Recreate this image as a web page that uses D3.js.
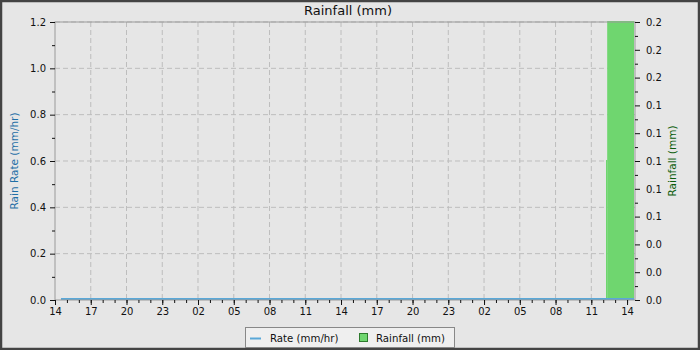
<!DOCTYPE html>
<html><head><meta charset="utf-8">
<script src="https://cdn.jsdelivr.net/npm/d3@7"></script>
<style>body{margin:0;background:#fff}svg{display:block;font-family:"DejaVu Sans",sans-serif}</style>
</head><body><svg id="c" width="700" height="350"></svg>
<script>
const title = "Rainfall (mm)";
const timeStart = "2024-01-01T14:00";
const timeEnd = "2024-01-03T14:40";
const rateTimes = ["2024-01-01T14:30", "2024-01-03T14:35"];
const rateValues = [0, 0];
const rainStart = ["2024-01-03T12:14", "2024-01-03T12:20"];
const rainEnd = ["2024-01-03T12:20", "2024-01-03T14:35"];
const rainValues = [0.1, 0.2];
const leftTicks = [0, 0.2, 0.4, 0.6, 0.8, 1.0, 1.2];
const rightTicks = [0, 0.02, 0.04, 0.06, 0.08, 0.10, 0.12, 0.14, 0.16, 0.18, 0.20];

const svg = d3.select("#c");
const W = 700, H = 350;
const m = {l:55, r:65, t:22, b:50};
const pw = W - m.l - m.r, ph = H - m.t - m.b;
const parse = d3.timeParse("%Y-%m-%dT%H:%M");
const TICK_FS = 10;

svg.append("rect").attr("x",0).attr("y",0).attr("width",W).attr("height",H).attr("fill","#e6e6e6");
svg.append("rect").attr("x",1).attr("y",1).attr("width",W-2).attr("height",H-2).attr("fill","none").attr("stroke","#444").attr("stroke-width",2.5);

const t0 = parse(timeStart), t1 = parse(timeEnd);
const x = d3.scaleTime().domain([t0, t1]).range([m.l, m.l+pw]);
const yL = d3.scaleLinear().domain([0,1.2]).range([m.t+ph, m.t]);
const yR = d3.scaleLinear().domain([0,0.2]).range([m.t+ph, m.t]);

const g = svg.append("g");
// grid
const majorX = d3.timeHour.range(t0, t1, 3);
const minorX = d3.timeHour.range(t0, t1, 1);
g.selectAll(".gx").data(majorX.slice(1)).join("line")
  .attr("x1",d=>x(d)).attr("x2",d=>x(d)).attr("y1",m.t).attr("y2",m.t+ph)
  .attr("stroke","#bdbdbd").attr("stroke-dasharray","5,3");
g.selectAll(".gy").data(leftTicks.slice(1)).join("line")
  .attr("x1",m.l).attr("x2",m.l+pw).attr("y1",d=>yL(d)).attr("y2",d=>yL(d))
  .attr("stroke","#bdbdbd").attr("stroke-dasharray","5,3");

// rainfall bars
g.selectAll(".bar").data(rainValues).join("rect")
  .attr("x",(d,i)=>x(parse(rainStart[i])))
  .attr("width",(d,i)=>x(parse(rainEnd[i]))-x(parse(rainStart[i])))
  .attr("y",d=>yR(d)-1).attr("height",d=>yR(0)-yR(d)+1)
  .attr("fill","#6fd66f");

// rate line
const rateData = rateTimes.map((t,i)=>[parse(t), rateValues[i]]);
g.append("path").datum(rateData)
  .attr("d", d3.line().x(d=>x(d[0])).y(d=>yL(d[1])-1))
  .attr("fill","none").attr("stroke","#5aa8d8").attr("stroke-width",2);

// frame
svg.append("rect").attr("x",m.l).attr("y",m.t).attr("width",pw).attr("height",ph)
  .attr("fill","none").attr("stroke","#999");

const styleAxis = a => {
  a.select(".domain").remove();
  a.selectAll("text").attr("font-size",TICK_FS).attr("fill","#111").attr("font-family","DejaVu Sans");
  a.selectAll("line").attr("stroke","#111");
};
// bottom axis
const xa = svg.append("g").attr("transform",`translate(0,${m.t+ph})`)
  .call(d3.axisBottom(x).tickValues(majorX).tickFormat(d3.timeFormat("%H")).tickSize(5).tickPadding(3));
styleAxis(xa);
svg.append("g").attr("transform",`translate(0,${m.t+ph})`)
  .call(d3.axisBottom(x).tickValues(minorX).tickFormat("").tickSize(3))
  .call(a=>{a.select(".domain").remove();a.selectAll("line").attr("stroke","#111");});

// left axis
const la = svg.append("g").attr("transform",`translate(${m.l},0)`)
  .call(d3.axisLeft(yL).tickValues(leftTicks).tickFormat(d3.format(".1f")).tickSize(5).tickPadding(4));
styleAxis(la);
const leftMinor = leftTicks.slice(0,-1).map((d,i)=>(d+leftTicks[i+1])/2);
svg.append("g").attr("transform",`translate(${m.l},0)`)
  .call(d3.axisLeft(yL).tickValues(leftMinor).tickFormat("").tickSize(3))
  .call(a=>{a.select(".domain").remove();a.selectAll("line").attr("stroke","#111");});

// right axis
const ra = svg.append("g").attr("transform",`translate(${m.l+pw},0)`)
  .call(d3.axisRight(yR).tickValues(rightTicks).tickFormat(d3.format(".1f")).tickSize(5).tickPadding(6));
styleAxis(ra);
const rightMinor = rightTicks.slice(0,-1).map((d,i)=>(d+rightTicks[i+1])/2);
svg.append("g").attr("transform",`translate(${m.l+pw},0)`)
  .call(d3.axisRight(yR).tickValues(rightMinor).tickFormat("").tickSize(3))
  .call(a=>{a.select(".domain").remove();a.selectAll("line").attr("stroke","#111");});

// titles
svg.append("text").attr("x",348).attr("y",15).attr("text-anchor","middle")
  .attr("font-size",13).attr("fill","#111").text(title);
svg.append("text").attr("transform",`translate(18,${m.t+ph/2}) rotate(-90)`)
  .attr("text-anchor","middle").attr("font-size",10.5).attr("fill","#1f6fa6").text("Rain Rate (mm/hr)");
svg.append("text").attr("transform",`translate(676,${m.t+ph/2}) rotate(-90)`)
  .attr("text-anchor","middle").attr("font-size",10.5).attr("fill","#0b5d0b").text("Rainfall (mm)");

// legend
const lg = svg.append("g");
lg.append("rect").attr("x",245.5).attr("y",327.5).attr("width",209).attr("height",20)
  .attr("fill","#efefef").attr("stroke","#888");
lg.append("line").attr("x1",250).attr("x2",261).attr("y1",338.5).attr("y2",338.5)
  .attr("stroke","#5aa8d8").attr("stroke-width",2);
lg.append("text").attr("x",270).attr("y",341.5).attr("font-size",10.2).attr("fill","#111").text("Rate (mm/hr)");
lg.append("rect").attr("x",359.5).attr("y",333.5).attr("width",8).attr("height",8)
  .attr("fill","#6fd66f").attr("stroke","#2d7a2d");
lg.append("text").attr("x",376).attr("y",341.5).attr("font-size",10.2).attr("fill","#111").text("Rainfall (mm)");
</script></body></html>
